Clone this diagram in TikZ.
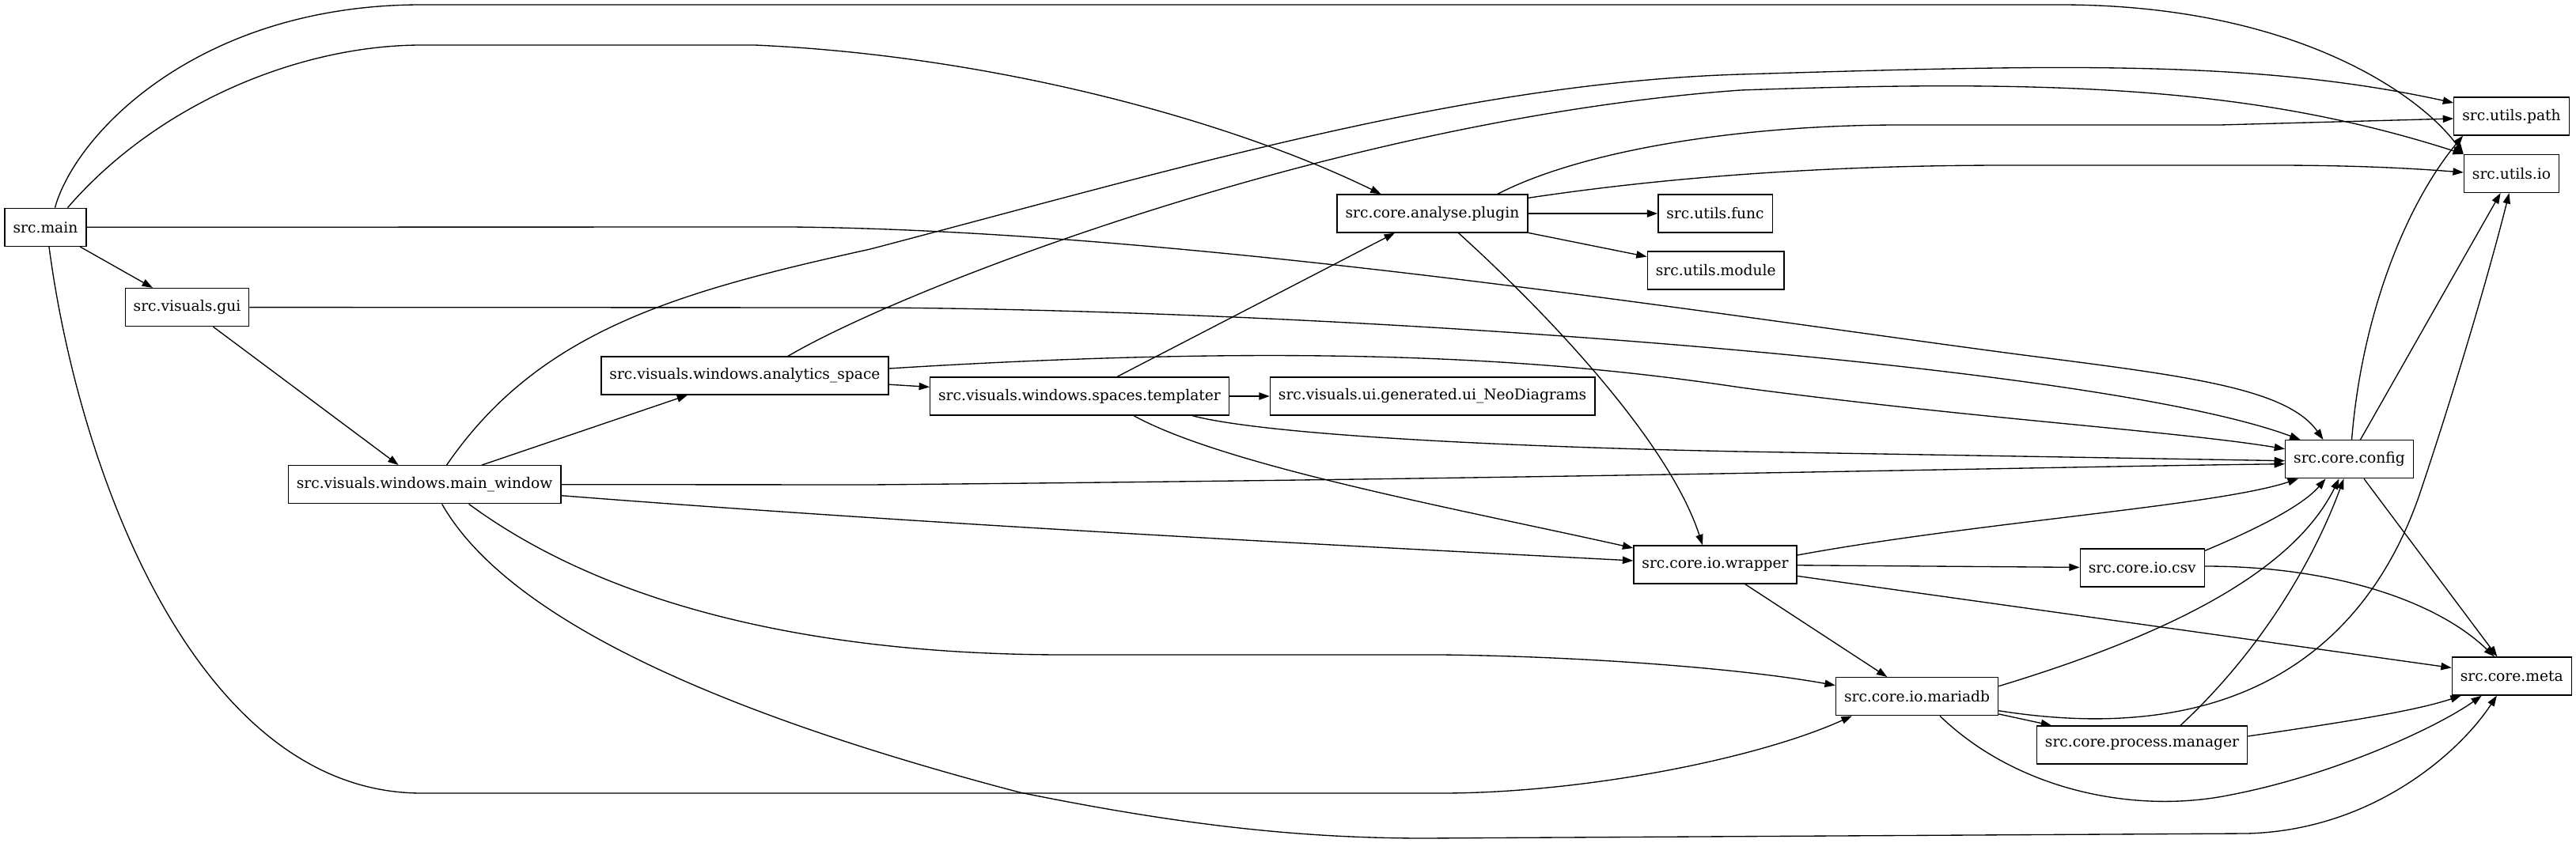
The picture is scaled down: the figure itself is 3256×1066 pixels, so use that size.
\documentclass[tikz,border=0pt]{standalone}
\usepackage{fontspec}
\setmainfont{DejaVu Serif}
\usepackage{tikz}
\usetikzlibrary{arrows.meta,calc}
\definecolor{gvink}{HTML}{000000}
\tikzset{
  modBox/.style={draw=gvink, line width=1pt, fill=white, rectangle, minimum height=36pt, inner xsep=7.9pt, inner ysep=2pt, font=\fontsize{14pt}{16pt}\selectfont},
  depArrow/.style={-{Triangle[length=10pt,width=7pt]}, line width=1pt, draw=gvink}
}

\begin{document}
\begin{tikzpicture}[x=0.75pt, y=-0.75pt]
  \useasboundingbox (0,0) rectangle (3256,1066);

  % modules
  \node[modBox] (main) at (57.5,287.3) {src.main};
  \node[modBox] (gui) at (236.5,388.6) {src.visuals.gui};
  \node[modBox] (mainwin) at (536.6,612.7) {src.visuals.windows.main\_window};
  \node[modBox] (analytics) at (941.5,475) {src.visuals.windows.analytics\_space};
  \node[modBox] (templater) at (1364.5,501) {src.visuals.windows.spaces.templater};
  \node[modBox] (neodiag) at (1810.6,501) {src.visuals.ui.generated.ui\_NeoDiagrams};
  \node[modBox] (plugin) at (1810.5,270) {src.core.analyse.plugin};
  \node[modBox] (ufunc) at (2168,270) {src.utils.func};
  \node[modBox] (umodule) at (2168.7,342) {src.utils.module};
  \node[modBox] (upath) at (3174.5,147) {src.utils.path};
  \node[modBox] (uio) at (3174.5,219.5) {src.utils.io};
  \node[modBox] (config) at (2969.5,580.7) {src.core.config};
  \node[modBox] (wrapper) at (2168,714) {src.core.io.wrapper};
  \node[modBox] (csv) at (2707.8,718) {src.core.io.csv};
  \node[modBox] (meta) at (3174.8,855) {src.core.meta};
  \node[modBox] (mariadb) at (2423,880.7) {src.core.io.mariadb};
  \node[modBox] (manager) at (2707.5,942) {src.core.process.manager};

  % src.main
  \draw[depArrow] ($(main.north)+(12,0)$) .. controls (95,170) and (250,6) .. (533,6) -- (2604,6) .. controls (2900,6) and (3060,120) .. (uio.north west);
  \draw[depArrow] ($(main.north)+(28,0)$) .. controls (200,130) and (380,57) .. (533,57) -- (954,57) .. controls (1250,70) and (1550,150) .. ($(plugin.north)+(-65,0)$);
  \draw[depArrow] (main.east) -- (1000,287) .. controls (1500,292) and (2150,395) .. (2550,448) .. controls (2760,475) and (2890,490) .. ($(config.north)+(-33,0)$);
  \draw[depArrow] (main) -- (gui);
  \draw[depArrow] ($(main.south)+(4.5,0)$) .. controls (100,600) and (250,1003) .. (533,1003) -- (1822,1003) .. controls (2000,1003) and (2220,960) .. ($(mariadb.south west)+(21,0)$);

  % src.visuals.gui
  \draw[depArrow] (gui) -- (mainwin);
  \draw[depArrow] (gui.east) -- (1100,389) .. controls (1700,392) and (2650,460) .. ($(config.north)+(-62,0)$);

  % src.visuals.windows.main_window
  \draw[depArrow] (mainwin) -- (analytics);
  \draw[depArrow] ($(mainwin.north)+(28,0)$) .. controls (680,420) and (850,370) .. (1100,315) .. controls (1500,210) and (1850,105) .. (2200,94) .. controls (2600,82) and (2850,75) .. ($(upath.west)+(0,-17)$);
  \draw[depArrow] (mainwin.east) -- (1100,613) .. controls (2000,605) and (2600,590) .. ($(config.west)+(0,6)$);
  \draw[depArrow] ($(mainwin.east)+(0,14)$) .. controls (1200,665) and (1700,690) .. ($(wrapper.west)+(0,-5)$);
  \draw[depArrow] ($(mainwin.south)+(56,0)$) .. controls (800,790) and (1100,828) .. (1345,828) -- (1822,828) .. controls (2000,830) and (2200,845) .. ($(mariadb.west)+(0,-14)$);
  \draw[depArrow] ($(mainwin.south)+(22,0)$) .. controls (640,780) and (900,900) .. (1289,1002) .. controls (1500,1045) and (1650,1060) .. (1801,1060) -- (2840,1054) .. controls (3000,1050) and (3110,950) .. ($(meta.south)+(-19,0)$);

  % src.visuals.windows.analytics_space
  \draw[depArrow] (analytics) -- (templater);
  \draw[depArrow] ($(analytics.east)+(0,-9)$) .. controls (1700,430) and (2000,460) .. (2200,490) .. controls (2500,530) and (2750,545) .. ($(config.west)+(0,-13)$);
  \draw[depArrow] ($(analytics.north)+(54.5,0)$) .. controls (1150,360) and (1700,150) .. (2200,114) .. controls (2600,100) and (2850,110) .. (uio.north west);

  % src.visuals.windows.spaces.templater
  \draw[depArrow] (templater) -- (neodiag);
  \draw[depArrow] (templater) -- (plugin);
  \draw[depArrow] ($(templater.south)+(142.5,0)$) .. controls (1600,550) and (1900,565) .. (2200,571) -- ($(config.west)+(0,2)$);
  \draw[depArrow] ($(templater.south)+(68.5,0)$) .. controls (1550,590) and (1850,645) .. ($(wrapper.west)+(0,-21)$);

  % src.core.analyse.plugin
  \draw[depArrow] (plugin) -- (ufunc);
  \draw[depArrow] (plugin) -- (umodule);
  \draw[depArrow] ($(plugin.north)+(82.5,0)$) .. controls (2000,190) and (2200,158) .. (2402,158) -- (2806,158) -- ($(upath.west)+(0,3)$);
  \draw[depArrow] ($(plugin.north east)+(0,5)$) .. controls (2100,225) and (2300,209) .. (2537,209) -- (2873,209) .. controls (2980,209) and (3050,213) .. ($(uio.west)+(0,-1.5)$);
  \draw[depArrow] ($(plugin.south)+(33,0)$) .. controls (1960,400) and (2110,560) .. ($(wrapper.north)+(-16,0)$);

  % src.core.config
  \draw[depArrow] ($(config.north)+(3,0)$) .. controls (2985,400) and (3040,260) .. ($(upath.south west)+(12,0)$);
  \draw[depArrow] (config) -- (uio);
  \draw[depArrow] (config) -- (meta);

  % src.core.io.wrapper
  \draw[depArrow] ($(wrapper.east)+(0,-12)$) .. controls (2500,660) and (2800,640) .. ($(config.south west)+(17,0)$);
  \draw[depArrow] (wrapper) -- (csv);
  \draw[depArrow] (wrapper) -- (meta);
  \draw[depArrow] (wrapper) -- (mariadb);

  % src.core.io.csv
  \draw[depArrow] ($(csv.north east)+(0,3)$) .. controls (2850,670) and (2910,640) .. ($(config.south)+(-30,0)$);
  \draw[depArrow] ($(csv.east)+(0,-2)$) .. controls (2950,716) and (3080,760) .. ($(meta.north)+(-22,0)$);

  % src.core.io.mariadb
  \draw[depArrow] ($(mariadb.east)+(0,-13)$) .. controls (2750,800) and (2900,720) .. ($(config.south)+(-13,0)$);
  \draw[depArrow] ($(mariadb.east)+(0,18)$) .. controls (2850,950) and (3000,800) .. (3060,620) .. controls (3110,470) and (3150,330) .. ($(uio.south)+(-3,0)$);
  \draw[depArrow] (mariadb) -- (manager);
  \draw[depArrow] ($(mariadb.south)+(29,0)$) .. controls (2550,1000) and (2700,1030) .. (2820,1005) .. controls (2950,980) and (3080,920) .. ($(meta.south)+(-38,0)$);

  % src.core.process.manager
  \draw[depArrow] ($(manager.north)+(48.5,0)$) .. controls (2850,830) and (2920,720) .. ($(config.south)+(-7,0)$);
  \draw[depArrow] ($(manager.east)+(0,-11)$) .. controls (2950,915) and (3050,900) .. ($(meta.south west)+(12,0)$);
\end{tikzpicture}
\end{document}
